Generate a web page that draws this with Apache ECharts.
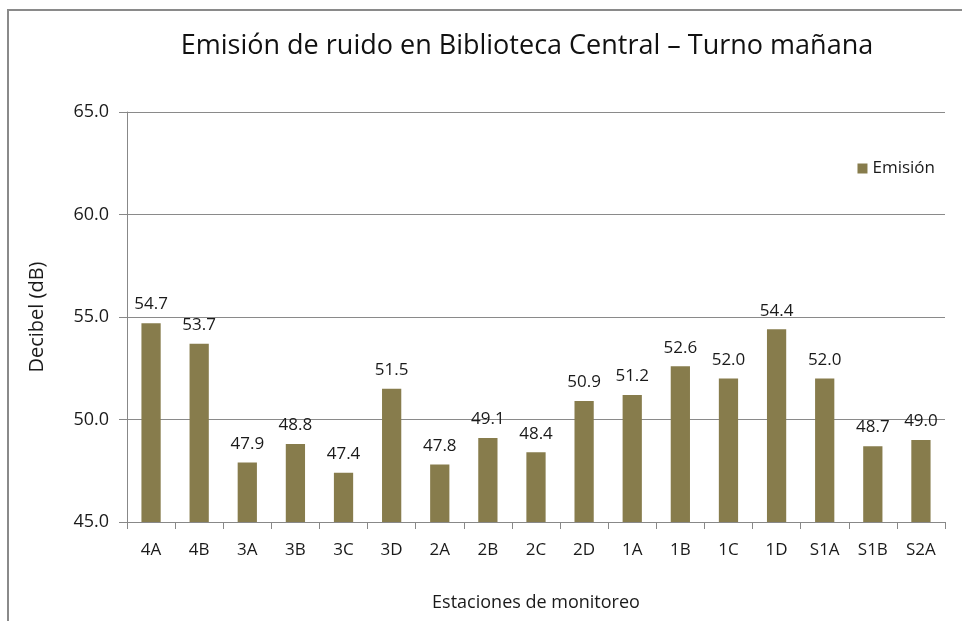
<!DOCTYPE html>
<html>
<head>
<meta charset="utf-8">
<script src="https://cdn.jsdelivr.net/npm/echarts@6/dist/echarts.min.js"></script>
<style>
  html, body { margin: 0; padding: 0; background: #fff; }
  #frame { position: absolute; left: 7px; top: 9px; width: 1000px; height: 700px;
           border-left: 2px solid #8a8a8a; border-top: 2px solid #8a8a8a; }
  #chart { position: absolute; left: 0; top: 0; width: 962px; height: 621px; }
</style>
</head>
<body>
<div id="frame"></div>
<div id="chart"></div>
<script>
  var estaciones = ['4A','4B','3A','3B','3C','3D','2A','2B','2C','2D','1A','1B','1C','1D','S1A','S1B','S2A'];
  var emision = [54.7, 53.7, 47.9, 48.8, 47.4, 51.5, 47.8, 49.1, 48.4, 50.9, 51.2, 52.6, 52.0, 54.4, 52.0, 48.7, 49.0];

  var fuente = "'Open Sans', 'Noto Sans', sans-serif";

  var myChart = echarts.init(document.getElementById('chart'));
  var option = {
    animation: false,
    textStyle: { fontFamily: fuente },
    title: {
      text: 'Emisión de ruido en Biblioteca Central – Turno mañana',
      left: 522,
      textAlign: 'center',
      top: 28,
      textStyle: { fontFamily: fuente, fontSize: 27, fontWeight: 'normal', color: '#111' }
    },
    legend: {
      right: 22,
      top: 155,
      itemWidth: 10,
      itemHeight: 10,
      itemGap: 6,
      icon: 'rect',
      textStyle: { fontFamily: fuente, fontSize: 17, color: '#1a1a1a' },
      data: ['Emisión']
    },
    grid: { left: 127, right: 17, top: 112, bottom: 99 },
    xAxis: {
      type: 'category',
      data: estaciones,
      name: 'Estaciones de monitoreo',
      nameLocation: 'middle',
      nameGap: 72,
      nameTextStyle: { fontFamily: fuente, fontSize: 18, color: '#1a1a1a' },
      axisLine: { lineStyle: { color: '#888' } },
      axisTick: { show: true, length: 7, lineStyle: { color: '#888' } },
      axisLabel: { fontSize: 17, color: '#1a1a1a', margin: 20 }
    },
    yAxis: {
      type: 'value',
      min: 45,
      max: 65,
      interval: 5,
      name: 'Decibel (dB)',
      nameLocation: 'middle',
      nameGap: 80,
      nameTextStyle: { fontFamily: fuente, fontSize: 20, color: '#1a1a1a' },
      axisLine: { show: true, lineStyle: { color: '#888' } },
      axisTick: { show: true, length: 8, lineStyle: { color: '#888' } },
      splitLine: { lineStyle: { color: '#8a8a8a', width: 1 } },
      axisLabel: {
        fontSize: 18, color: '#1a1a1a', margin: 18,
        formatter: function (v) { return v.toFixed(1); }
      }
    },
    series: [{
      name: 'Emisión',
      type: 'bar',
      data: emision,
      barWidth: '40%',
      itemStyle: { color: '#877c4c' },
      label: {
        show: true,
        position: 'top',
        distance: 10,
        fontSize: 17,
        color: '#1a1a1a',
        formatter: function (p) { return p.value.toFixed(1); }
      }
    }]
  };
  myChart.setOption(option);
</script>
</body>
</html>
